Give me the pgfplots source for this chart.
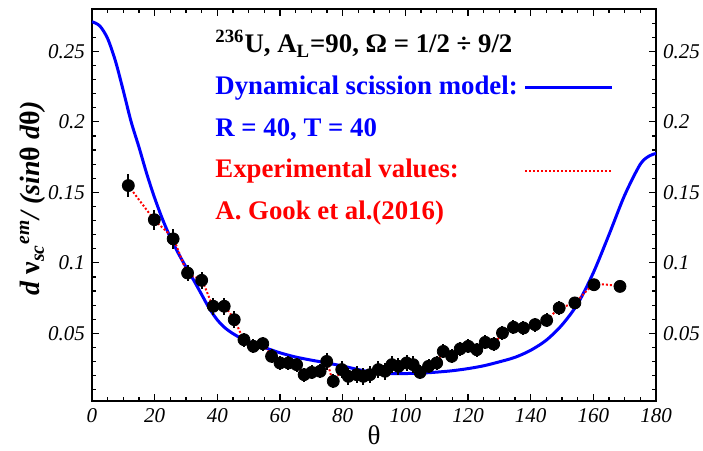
\documentclass[border=0pt]{standalone}
\usepackage{pgfplots}
\usepackage{pgfplotstable}
\pgfplotsset{compat=1.18}
\usepackage{fontspec}
\setmainfont{Liberation Serif}

\pgfplotstableread{
x y e
11.6 0.1548 0.008
19.9 0.1306 0.007
25.9 0.1170 0.007
30.5 0.0928 0.006
35.0 0.0876 0.006
38.7 0.0692 0.006
42.2 0.0692 0.006
45.4 0.0597 0.006
48.5 0.0455 0.005
51.5 0.0408 0.005
54.5 0.0427 0.005
57.3 0.0337 0.005
60.0 0.0290 0.005
62.7 0.0290 0.005
65.3 0.0278 0.005
67.7 0.0207 0.005
70.1 0.0223 0.005
72.8 0.0231 0.005
74.9 0.0301 0.006
77.0 0.0160 0.005
79.7 0.0243 0.006
81.8 0.0195 0.006
84.5 0.0207 0.006
86.6 0.0195 0.006
88.7 0.0207 0.006
91.4 0.0243 0.006
93.5 0.0231 0.006
95.7 0.0278 0.006
97.8 0.0266 0.006
100.4 0.0290 0.006
102.5 0.0278 0.006
104.7 0.0223 0.005
107.4 0.0266 0.005
110.0 0.0290 0.005
112.1 0.0372 0.005
114.8 0.0337 0.005
117.5 0.0390 0.005
120.1 0.0408 0.005
122.8 0.0384 0.005
125.5 0.0436 0.005
128.2 0.0424 0.005
131.0 0.0503 0.005
134.5 0.0543 0.005
137.7 0.0538 0.005
141.4 0.0562 0.005
145.1 0.0592 0.005
149.1 0.0680 0.005
154.1 0.0716 0.004
160.2 0.0845 0.004
168.5 0.0833 0.004
}\expdata

\pgfplotstableread{
x y
0 0.271
2.5 0.268
5 0.259
7.5 0.243
10 0.222
12.5 0.200
15 0.182
17.5 0.163
20 0.146
22.5 0.131
25 0.118
27.5 0.107
30 0.097
32.5 0.0875
35 0.0775
37.5 0.0675
40 0.0595
42.5 0.0538
45 0.0498
47.5 0.0466
50 0.0440
55 0.0400
60 0.0362
65 0.0332
70 0.0310
75 0.0290
80 0.0268
85 0.0243
90 0.0222
95 0.0215
100 0.0215
105 0.0218
110 0.0225
115 0.0235
120 0.0250
125 0.0270
130 0.0298
135 0.0330
140 0.0380
145 0.0452
150 0.0560
155 0.0710
160 0.0930
165 0.1200
170 0.1480
175 0.1700
178 0.1760
180 0.1775
}\modeldata

\begin{document}
\begin{tikzpicture}
\begin{axis}[
  scale only axis, width=282pt, height=196pt,
  xmin=0, xmax=180, ymin=0.002, ymax=0.28,
  xtick={0,20,...,180}, minor xtick={0,5,...,180},
  ytick={0.05,0.1,0.15,0.2,0.25},
  minor ytick={0.01,0.02,0.03,0.04,0.05,0.06,0.07,0.08,0.09,0.10,0.11,0.12,0.13,0.14,0.15,0.16,0.17,0.18,0.19,0.20,0.21,0.22,0.23,0.24,0.25,0.26,0.27},
  tick align=inside, major tick length=3.5pt, minor tick length=2pt,
  axis line style={line width=0.9pt},
  every tick/.style={black, line width=0.6pt},
  ticklabel style={font=\fontsize{10.5}{12}\selectfont\itshape},
  /pgf/number format/assume math mode=true,
  yticklabel style={/pgf/number format/fixed, /pgf/number format/precision=2},
  xlabel={θ},
  xlabel style={font=\fontsize{13.5}{15}\selectfont, at={(axis description cs:0.5,-0.086)}, anchor=center},
  ylabel={\bfseries\itshape d \textup{ν}\textsubscript{sc}\textsuperscript{em}/ (sin\textup{θ} d\textup{θ})},
  ylabel style={font=\fontsize{14}{16}\selectfont, at={(axis description cs:-0.105,0.5166)}, anchor=center},
]
\addplot[blue, line width=1.5pt, smooth, tension=0.5] table[x=x, y=y] {\modeldata};
\addplot[only marks, mark=*, mark size=3pt, black,
  error bars/.cd, y dir=both, y explicit,
  error bar style={line width=1pt, black}, error mark=none]
  table[x=x, y=y, y error=e] {\expdata};
\addplot[red, line width=1pt, dash pattern=on 1pt off 1pt, smooth, tension=0.4] table[x=x, y=y] {\expdata};

\node[anchor=base west, font=\fontsize{13.4}{16}\selectfont\bfseries, black] at (rel axis cs:0.2063,0.8885) {\textsuperscript{236}U, A\textsubscript{L}=90, Ω = 1/2 ÷ 9/2};
\node[anchor=base west, font=\fontsize{13.4}{16}\selectfont\bfseries, blue] at (rel axis cs:0.2063,0.7824) {Dynamical scission model:};
\node[anchor=base west, font=\fontsize{13.4}{16}\selectfont\bfseries, blue] at (rel axis cs:0.2063,0.676) {R = 40, T = 40};
\node[anchor=base west, font=\fontsize{13.4}{16}\selectfont\bfseries, red] at (rel axis cs:0.2063,0.5706) {Experimental values:};
\node[anchor=base west, font=\fontsize{13.4}{16}\selectfont\bfseries, red] at (rel axis cs:0.2063,0.464) {A. Gook et al.(2016)};
\draw[blue, line width=1.5pt] (rel axis cs:0.768,0.8002) -- (rel axis cs:0.9225,0.8002);
\draw[red, line width=1pt, dash pattern=on 1pt off 1pt] (rel axis cs:0.768,0.5875) -- (rel axis cs:0.9225,0.5875);

\coordinate (bbbl) at (rel axis cs:-0.1631,-0.125);
\coordinate (bbtr) at (rel axis cs:1.0833,1.023);
\end{axis}
\begin{axis}[
  scale only axis, width=282pt, height=196pt,
  xmin=0, xmax=180, ymin=0.002, ymax=0.28,
  hide x axis, axis y line*=right,
  ytick={0.05,0.1,0.15,0.2,0.25},
  y axis line style={draw=none}, ytick style={draw=none},
  ticklabel style={font=\fontsize{10.5}{12}\selectfont\itshape},
  /pgf/number format/assume math mode=true,
  yticklabel style={/pgf/number format/fixed, /pgf/number format/precision=2},
]
\end{axis}
\pgfresetboundingbox
\useasboundingbox (bbbl) rectangle (bbtr);
\end{tikzpicture}
\end{document}
